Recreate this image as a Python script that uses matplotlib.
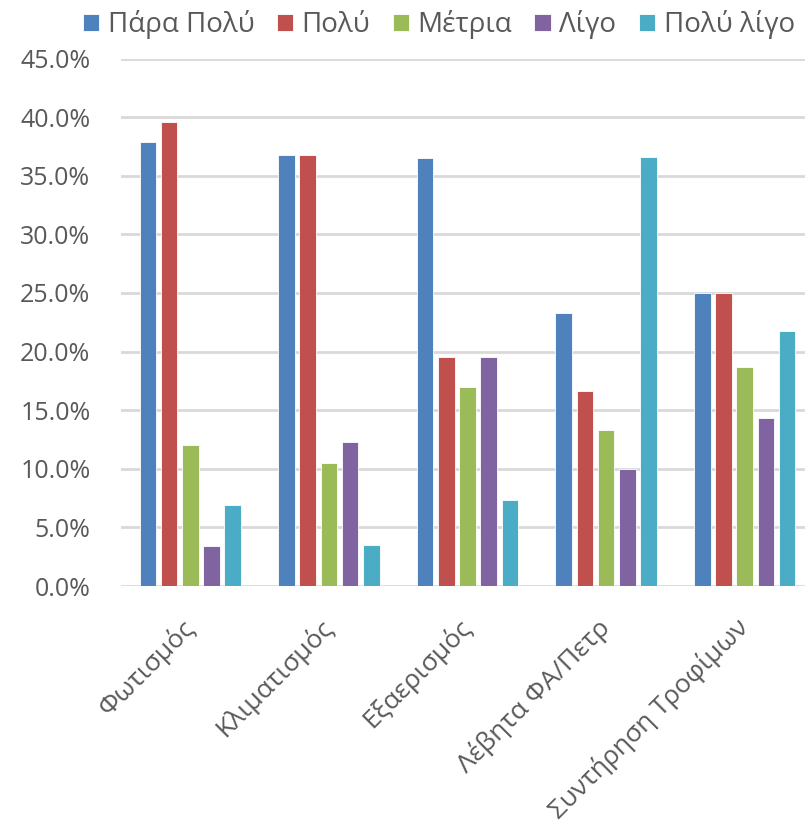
import numpy as np
import matplotlib.pyplot as plt
from matplotlib.ticker import PercentFormatter

plt.rcParams['font.family'] = ['Open Sans', 'DejaVu Sans']

categories = ['Φωτισμός', 'Κλιματισμός', 'Εξαερισμός', 'Λέβητα ΦΑ/Πετρ', 'Συντήρηση Τροφίμων']
series = ['Πάρα Πολύ', 'Πολύ', 'Μέτρια', 'Λίγο', 'Πολύ λίγο']
para_poly = [37.9, 36.8, 36.5, 23.3, 25.0]
poly = [39.6, 36.8, 19.5, 16.6, 25.0]
metria = [12.0, 10.5, 17.0, 13.3, 18.7]
ligo = [3.4, 12.3, 19.5, 10.0, 14.3]
poly_ligo = [6.9, 3.5, 7.3, 36.6, 21.8]
values = [para_poly, poly, metria, ligo, poly_ligo]
colors = ['#4F81BD', '#C0504D', '#9BBB59', '#8064A2', '#4BACC6']

fig = plt.figure(figsize=(8.05, 8.26), dpi=100)
ax = fig.add_axes([121/805, 1-586/826, 1-121/805, (586-58.6)/826])

x = np.arange(len(categories))
pitch = 0.153
width = 0.12
for i, (name, vals, c) in enumerate(zip(series, values, colors)):
    ax.bar(x + (i - 2) * pitch, np.array(vals) / 100, width, color=c,
           edgecolor='white', linewidth=0.6, label=name, zorder=3)

ax.set_xlim(-0.5, 4.435)
ax.set_ylim(0, 0.45)
ax.set_yticks(np.arange(0, 0.451, 0.05))
ax.yaxis.set_major_formatter(PercentFormatter(1.0, decimals=1))
ax.grid(axis='y', color='#d9d9d9', linewidth=2, zorder=0)
for s in ['top', 'right', 'left', 'bottom']:
    ax.spines[s].set_visible(False)
ax.tick_params(axis='y', length=0, labelsize=18, colors='#595959', pad=22)
ax.tick_params(axis='x', length=0, labelsize=19, colors='#595959', pad=27)
ax.set_xticks(x)
ax.set_xticklabels(categories, rotation=45, ha='right', va='center', rotation_mode='anchor')

ax.legend(loc='upper center', bbox_to_anchor=(0.545, 1.018), bbox_transform=fig.transFigure,
          ncol=5, frameon=False, fontsize=20, handlelength=0.6, handleheight=0.6,
          handletextpad=0.3, columnspacing=0.8, labelcolor='#595959')

fig.savefig('out.png', dpi=100)
